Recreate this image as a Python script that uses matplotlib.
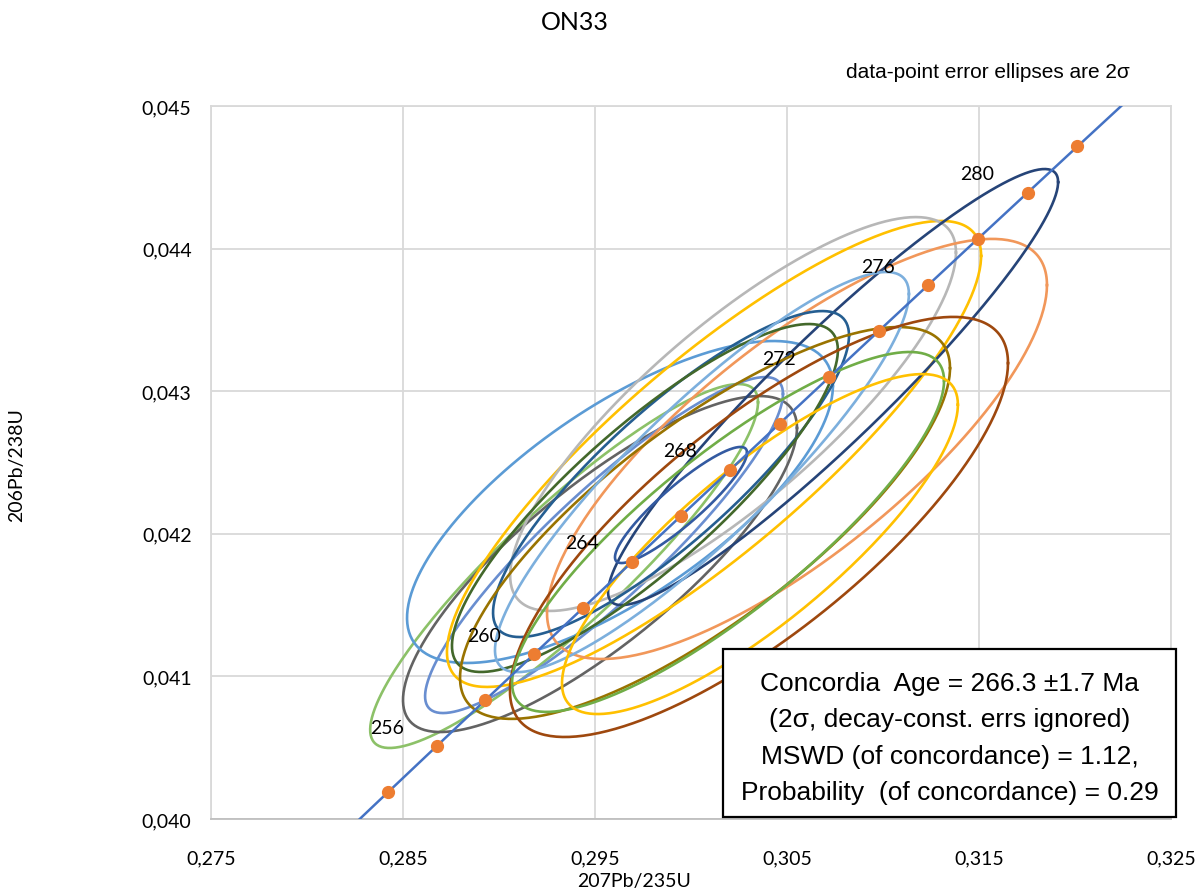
import numpy as np
import matplotlib.pyplot as plt
from matplotlib.patches import Rectangle
from matplotlib.ticker import FuncFormatter

# ages (Ma) marked on the concordia, and the ones that carry a label
dotAges = [254, 256, 258, 260, 262, 264, 266, 268, 270, 272, 274, 276, 278, 280, 282]
labelAges = [256, 260, 264, 268, 272, 276, 280]

# axis ticks
xTicks = [0.275, 0.285, 0.295, 0.305, 0.315, 0.325]
yTicks = [0.040, 0.041, 0.042, 0.043, 0.044, 0.045]

# data-point error ellipses (2 sigma): centre, half widths and correlation
ellX = [0.29339, 0.29526, 0.29547, 0.29630, 0.30120, 0.30219, 0.30552, 0.30740,
        0.29896, 0.29760, 0.30073, 0.30057, 0.30354, 0.30193, 0.30359, 0.29948]
ellY = [0.041774, 0.041788, 0.041921, 0.042223, 0.042560, 0.042840, 0.042595, 0.043029,
        0.042419, 0.042251, 0.042076, 0.042433, 0.042048, 0.042013, 0.041928, 0.042202]
ellSx = [0.01010, 0.01026, 0.00932, 0.01109, 0.01391, 0.01161, 0.01302, 0.01172,
         0.00927, 0.01005, 0.01276, 0.01078, 0.01297, 0.01125, 0.01031, 0.00344]
ellSy = [0.001276, 0.001178, 0.001178, 0.001129, 0.001634, 0.001381, 0.001473, 0.001529,
         0.001143, 0.001220, 0.001374, 0.001403, 0.001473, 0.001262, 0.001192, 0.000407]
ellRho = [0.90, 0.81, 0.90, 0.72, 0.85, 0.82, 0.78, 0.94,
          0.85, 0.85, 0.79, 0.89, 0.78, 0.84, 0.82, 0.90]
ellColors = ["#8CC168", "#636363", "#698ED0", "#5B9BD5", "#FFC000", "#B7B7B7", "#F1975A", "#264478",
             "#255E91", "#43682B", "#997300", "#7CAFDD", "#9E480E", "#70AD47", "#FFC000", "#335AA1"]

boxLines = ["Concordia  Age = 266.3 \u00b11.7 Ma",
            "(2\u03c3, decay-const. errs ignored)",
            "MSWD (of concordance) = 1.12,",
            "Probability  (of concordance) = 0.29"]

lambda238 = 1.55125e-10
lambda235 = 9.8485e-10


def concordia(ageMa):
    t = np.asarray(ageMa, dtype=float) * 1e6
    return np.exp(lambda235 * t) - 1, np.exp(lambda238 * t) - 1


def ellipse(cx, cy, sx, sy, rho, n=300):
    th = np.linspace(0, 2 * np.pi, n)
    x = cx + sx * np.cos(th)
    y = cy + sy * (rho * np.cos(th) + np.sqrt(1 - rho ** 2) * np.sin(th))
    return x, y


def commaFmt(v, p):
    return f"{v:.3f}".replace('.', ',')


W, H = 1201, 895
fig = plt.figure(figsize=(W / 100, H / 100), dpi=100)
ax = fig.add_axes([211 / W, 1 - 820 / H, 960 / W, 713 / H])

for i in range(len(ellX)):
    ex, ey = ellipse(ellX[i], ellY[i], ellSx[i], ellSy[i], ellRho[i])
    ax.plot(ex, ey, color=ellColors[i], lw=1.9, zorder=2)

curveAges = np.linspace(240, 290, 400)
cx, cy = concordia(curveAges)
ax.plot(cx, cy, color="#4472C4", lw=1.8, zorder=3)

dx, dy = concordia(dotAges)
ax.plot(dx, dy, 'o', color="#ED7D31", ms=8.5, mec="#ED7D31", zorder=4)

lx, ly = concordia(labelAges)
for age, x, y in zip(labelAges, lx, ly):
    ax.annotate(str(age), (x, y), xytext=(-50, 19), textcoords='offset pixels',
                ha='center', va='center', fontsize=14, family=['Lato', 'DejaVu Sans'], zorder=5)

ax.set_xlim(xTicks[0], xTicks[-1])
ax.set_ylim(yTicks[0], yTicks[-1])
ax.set_xticks(xTicks)
ax.set_yticks(yTicks)
ax.xaxis.set_major_formatter(FuncFormatter(commaFmt))
ax.yaxis.set_major_formatter(FuncFormatter(commaFmt))
ax.tick_params(length=0, labelsize=14, pad=14)
ax.tick_params(axis='x', pad=22)
for lab in ax.get_xticklabels() + ax.get_yticklabels():
    lab.set_family(['Lato', 'DejaVu Sans'])
ax.grid(True, color="#D9D9D9", lw=1.3, zorder=0)
ax.set_axisbelow(True)
for s in ax.spines.values():
    s.set_color("#D9D9D9")
    s.set_linewidth(1.3)
ax.spines['bottom'].set_color("#BFBFBF")

fig.text(575 / W, 1 - 22 / H, "ON33", ha='center', va='center', fontsize=18,
         family=['Lato', 'DejaVu Sans'])
fig.text(988 / W, 1 - 72 / H, "data-point error ellipses are 2\u03c3", ha='center', va='center',
         fontsize=15, family=['Liberation Sans', 'DejaVu Sans'])
fig.text(634 / W, 1 - 882 / H, "207Pb/235U", ha='center', va='center', fontsize=14,
         family=['Lato', 'DejaVu Sans'])
fig.text(17 / W, 1 - 465 / H, "206Pb/238U", ha='center', va='center', fontsize=14,
         rotation=90, family=['Lato', 'DejaVu Sans'])

fig.add_artist(Rectangle((723 / W, 1 - 818 / H), 453 / W, 168 / H, transform=fig.transFigure,
                         facecolor='white', edgecolor='black', lw=1.6, zorder=10))
for k, line in enumerate(boxLines):
    fig.text(950 / W, 1 - (684 + 36.5 * k) / H, line, ha='center', va='center', fontsize=19,
             family=['Liberation Sans', 'DejaVu Sans'], zorder=11)

fig.savefig("out.png", dpi=100, facecolor='white')
